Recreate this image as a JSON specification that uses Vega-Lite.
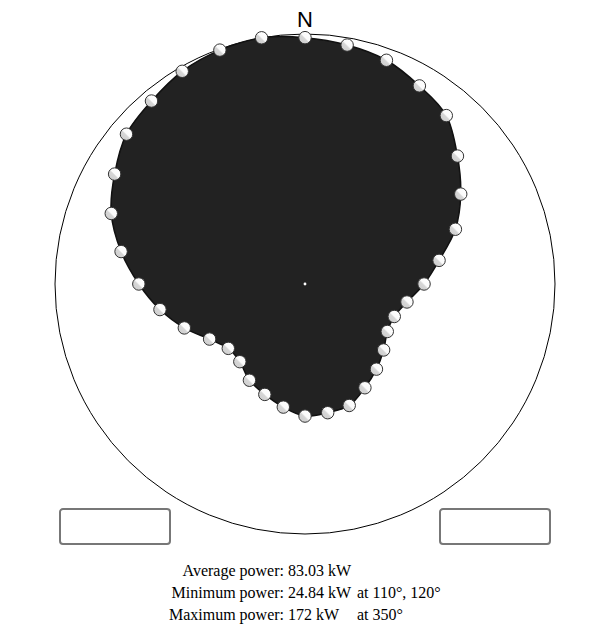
{
  "$schema": "https://vega.github.io/schema/vega-lite/v6.json",
  "width": 594,
  "height": 628,
  "autosize": "none",
  "padding": 0,
  "background": "white",
  "config": {"view": {"stroke": null}},
  "datasets": {
    "power": [
      {"angle": 0, "power": 167}, {"angle": 10, "power": 162}, {"angle": 20, "power": 156},
      {"angle": 30, "power": 144}, {"angle": 40, "power": 133}, {"angle": 50, "power": 109},
      {"angle": 60, "power": 89}, {"angle": 70, "power": 70.5}, {"angle": 80, "power": 51},
      {"angle": 90, "power": 39}, {"angle": 100, "power": 29.5}, {"angle": 110, "power": 24.84},
      {"angle": 120, "power": 24.84}, {"angle": 130, "power": 29}, {"angle": 140, "power": 34},
      {"angle": 150, "power": 39.5}, {"angle": 160, "power": 46}, {"angle": 170, "power": 47},
      {"angle": 180, "power": 48}, {"angle": 190, "power": 43}, {"angle": 200, "power": 38},
      {"angle": 210, "power": 34}, {"angle": 220, "power": 28.3}, {"angle": 230, "power": 27.6},
      {"angle": 240, "power": 33.4}, {"angle": 250, "power": 45.4}, {"angle": 260, "power": 59.7},
      {"angle": 270, "power": 76}, {"angle": 280, "power": 96}, {"angle": 290, "power": 117},
      {"angle": 300, "power": 133}, {"angle": 310, "power": 149.5}, {"angle": 320, "power": 157},
      {"angle": 330, "power": 166}, {"angle": 340, "power": 170.5}, {"angle": 350, "power": 172}
    ],
    "summary": [
      {"line": 1, "label": "Average power:", "value": "83.03 kW", "at": ""},
      {"line": 2, "label": "Minimum power:", "value": "24.84 kW", "at": "at 110°, 120°"},
      {"line": 3, "label": "Maximum power:", "value": "172 kW", "at": "at 350°"}
    ],
    "single": [{"label": "N"}]
  },
  "resolve": {"scale": {"y": "independent"}},
  "layer": [
    {
      "data": {"name": "single"},
      "mark": {"type": "point", "shape": "circle", "size": 250000, "filled": false, "stroke": "#000", "strokeWidth": 1, "opacity": 1},
      "encoding": {
        "x": {"datum": 0, "type": "quantitative", "scale": {"domain": [-305, 289], "nice": false, "zero": false}, "axis": null},
        "y": {"datum": 0, "type": "quantitative", "scale": {"domain": [-344, 284], "nice": false, "zero": false}, "axis": null}
      }
    },
    {
      "data": {"name": "power"},
      "transform": [
        {"calculate": "250*sqrt(datum.power/172)*sin(datum.angle*PI/180)", "as": "px"},
        {"calculate": "250*sqrt(datum.power/172)*cos(datum.angle*PI/180)", "as": "py"}
      ],
      "mark": {"type": "line", "interpolate": "cardinal-closed", "fill": "#222222", "stroke": "#111111", "strokeWidth": 1.5},
      "encoding": {
        "x": {"field": "px", "type": "quantitative", "scale": {"domain": [-305, 289], "nice": false, "zero": false}, "axis": null},
        "y": {"field": "py", "type": "quantitative", "scale": {"domain": [-344, 284], "nice": false, "zero": false}, "axis": null},
        "order": {"field": "angle", "type": "quantitative"}
      }
    },
    {
      "data": {"name": "power"},
      "transform": [
        {"calculate": "250*sqrt(datum.power/172)*sin(datum.angle*PI/180)", "as": "px"},
        {"calculate": "250*sqrt(datum.power/172)*cos(datum.angle*PI/180)", "as": "py"}
      ],
      "mark": {
        "type": "point", "shape": "circle", "size": 155, "opacity": 1, "stroke": "#333333", "strokeWidth": 1,
        "fill": {"gradient": "linear", "x1": 1, "y1": 0, "x2": 0, "y2": 1,
          "stops": [{"offset": 0, "color": "#ffffff"}, {"offset": 0.48, "color": "#fbfbfb"}, {"offset": 0.56, "color": "#d6d6d6"}, {"offset": 1, "color": "#cccccc"}]}
      },
      "encoding": {
        "x": {"field": "px", "type": "quantitative", "scale": {"domain": [-305, 289], "nice": false, "zero": false}, "axis": null},
        "y": {"field": "py", "type": "quantitative", "scale": {"domain": [-344, 284], "nice": false, "zero": false}, "axis": null},
        "tooltip": [{"field": "angle"}, {"field": "power"}]
      }
    },
    {
      "data": {"name": "single"},
      "mark": {"type": "point", "shape": "circle", "size": 8, "filled": true, "color": "#ffffff", "opacity": 1},
      "encoding": {
        "x": {"datum": 0, "type": "quantitative", "scale": {"domain": [-305, 289], "nice": false, "zero": false}, "axis": null},
        "y": {"datum": 0, "type": "quantitative", "scale": {"domain": [-344, 284], "nice": false, "zero": false}, "axis": null}
      }
    },
    {
      "data": {"name": "single"},
      "mark": {"type": "text", "font": "Liberation Sans", "fontSize": 22, "color": "#000", "align": "center", "baseline": "alphabetic"},
      "encoding": {
        "x": {"datum": 0, "type": "quantitative", "scale": {"domain": [-305, 289], "nice": false, "zero": false}, "axis": null},
        "y": {"datum": 257.5, "type": "quantitative", "scale": {"domain": [-344, 284], "nice": false, "zero": false}, "axis": null},
        "text": {"field": "label"}
      }
    },
    {
      "data": {"name": "single"},
      "mark": {"type": "rect", "fill": null, "fillOpacity": 0, "stroke": "#777777", "strokeWidth": 2, "cornerRadius": 3},
      "encoding": {
        "x": {"datum": -245, "type": "quantitative", "scale": {"domain": [-305, 289], "nice": false, "zero": false}, "axis": null},
        "x2": {"datum": -135},
        "y": {"datum": -225, "type": "quantitative", "scale": {"domain": [-344, 284], "nice": false, "zero": false}, "axis": null},
        "y2": {"datum": -260}
      }
    },
    {
      "data": {"name": "single"},
      "mark": {"type": "rect", "fill": null, "fillOpacity": 0, "stroke": "#777777", "strokeWidth": 2, "cornerRadius": 3},
      "encoding": {
        "x": {"datum": 135, "type": "quantitative", "scale": {"domain": [-305, 289], "nice": false, "zero": false}, "axis": null},
        "x2": {"datum": 245},
        "y": {"datum": -225, "type": "quantitative", "scale": {"domain": [-344, 284], "nice": false, "zero": false}, "axis": null},
        "y2": {"datum": -260}
      }
    },
    {
      "data": {"name": "summary"},
      "mark": {"type": "text", "font": "Liberation Serif", "fontSize": 16, "color": "#000", "align": "right", "baseline": "alphabetic"},
      "encoding": {
        "x": {"datum": -21, "type": "quantitative", "scale": {"domain": [-305, 289], "nice": false, "zero": false}, "axis": null},
        "y": {"field": "line", "type": "quantitative", "scale": {"domain": [-25.1818, 3.3636], "reverse": true, "nice": false, "zero": false}, "axis": null},
        "text": {"field": "label"}
      }
    },
    {
      "data": {"name": "summary"},
      "mark": {"type": "text", "font": "Liberation Serif", "fontSize": 16, "color": "#000", "align": "left", "baseline": "alphabetic"},
      "encoding": {
        "x": {"datum": -17, "type": "quantitative", "scale": {"domain": [-305, 289], "nice": false, "zero": false}, "axis": null},
        "y": {"field": "line", "type": "quantitative", "scale": {"domain": [-25.1818, 3.3636], "reverse": true, "nice": false, "zero": false}, "axis": null},
        "text": {"field": "value"}
      }
    },
    {
      "data": {"name": "summary"},
      "mark": {"type": "text", "font": "Liberation Serif", "fontSize": 16, "color": "#000", "align": "left", "baseline": "alphabetic"},
      "encoding": {
        "x": {"datum": 52, "type": "quantitative", "scale": {"domain": [-305, 289], "nice": false, "zero": false}, "axis": null},
        "y": {"field": "line", "type": "quantitative", "scale": {"domain": [-25.1818, 3.3636], "reverse": true, "nice": false, "zero": false}, "axis": null},
        "text": {"field": "at"}
      }
    }
  ]
}
